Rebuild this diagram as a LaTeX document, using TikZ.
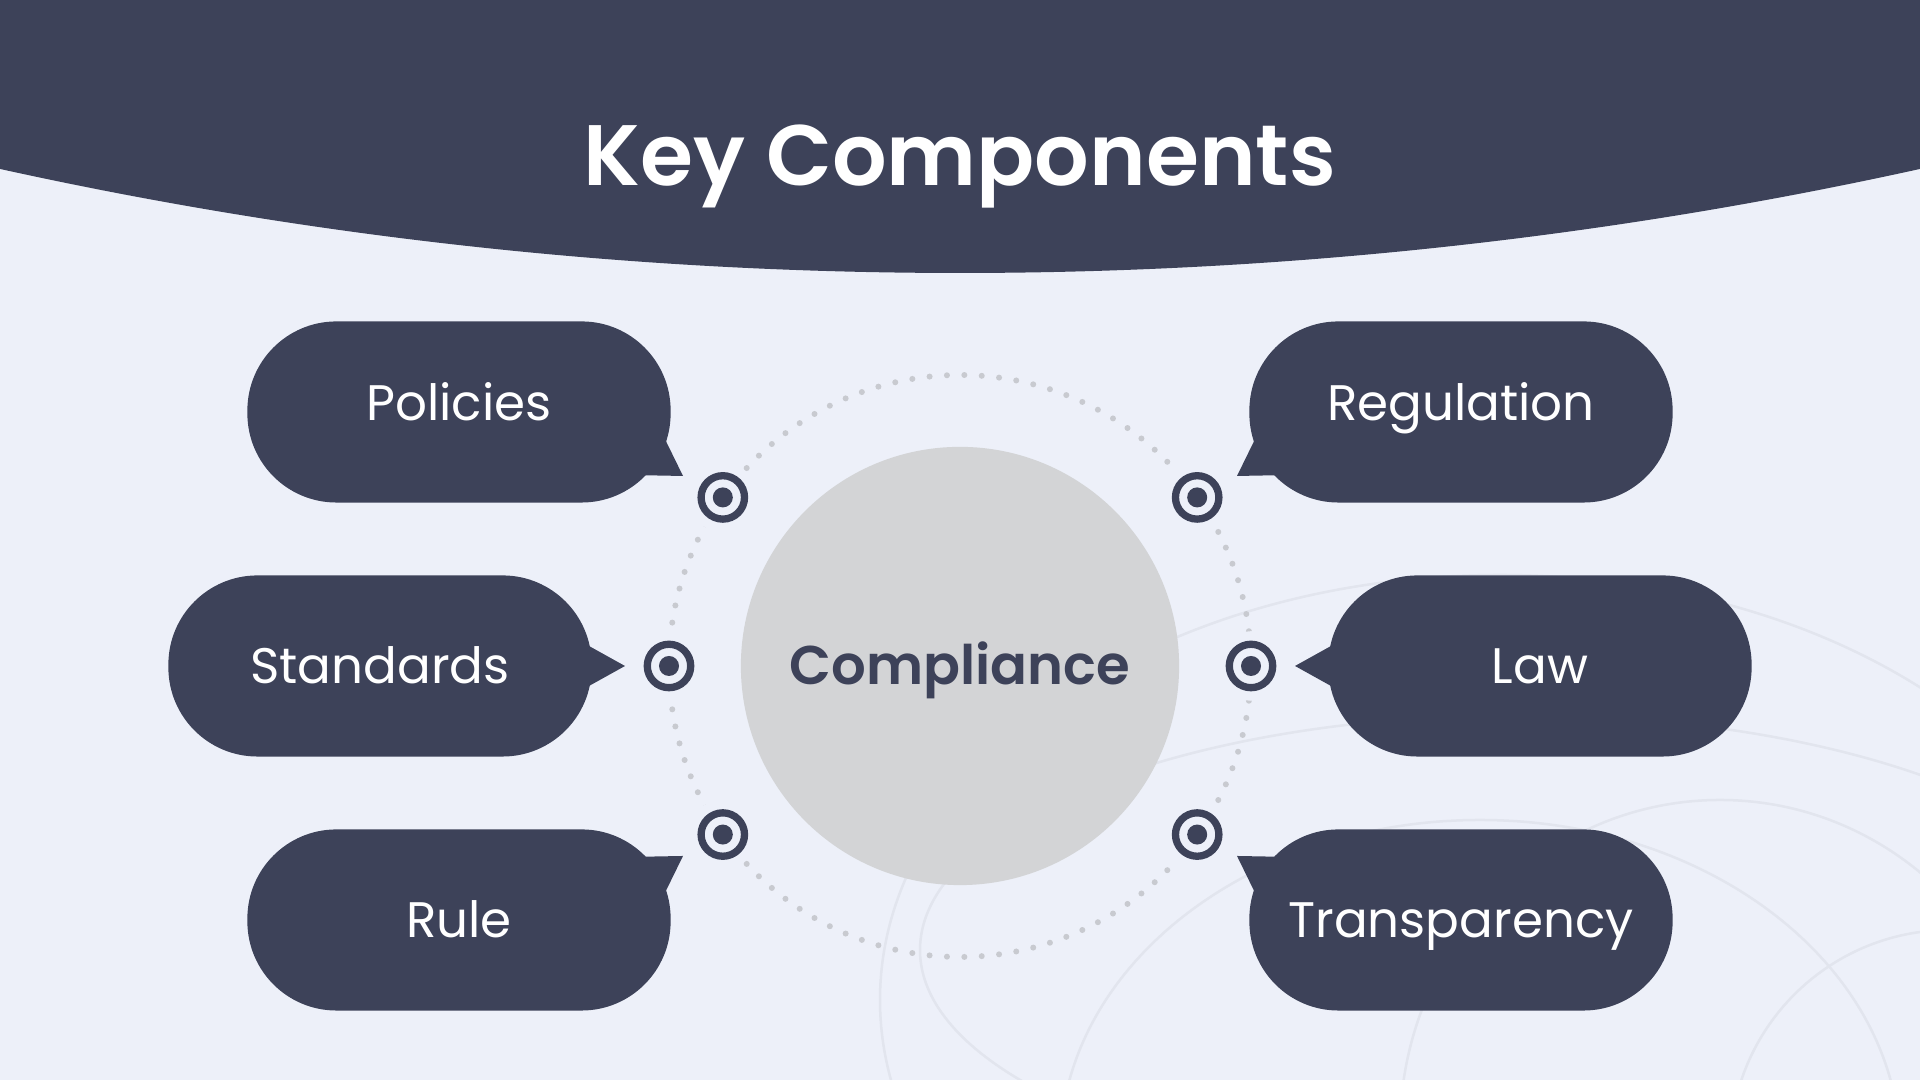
\documentclass[tikz,border=0pt]{standalone}
\usepackage{fontspec}
\setmainfont{Poppins}
\newfontfamily\headfont{Poppins SemiBold}
\usetikzlibrary{calc}

\definecolor{navy}{HTML}{3D4259}
\definecolor{paper}{HTML}{EDF0F9}
\definecolor{disc}{HTML}{D3D4D6}
\definecolor{dotgray}{HTML}{C8CAD0}
\definecolor{ripple}{HTML}{E2E5EE}

\tikzset{
  bubble/.style={fill=navy, text=white, rounded corners=0.89cm,
    minimum width=4.23cm, minimum height=1.81cm, inner sep=0pt,
    font=\fontsize{14.2}{17}\selectfont, text height=9.9pt, text depth=0pt},
  raised/.style={text depth=0.17cm},
  target/.style={circle, draw=navy, line width=0.073cm, fill=paper,
    minimum size=0.434cm, inner sep=0pt,
    preaction={draw=paper, line width=0.26cm},
    path picture={\fill[navy] (path picture bounding box.center) circle (0.1cm);}},
  ring/.style={draw=ripple, line width=0.025cm},
}

\begin{document}
\begin{tikzpicture}[x=0.01cm, y=0.01cm]
  \useasboundingbox (0,0) rectangle (1920,1080);
  \fill[paper] (0,0) rectangle (1920,1080);

  % faint rings and header band
  \begin{scope}
    \clip (0,0) rectangle (1920,1080);
    \draw[ring] (1500,80) ellipse [x radius=620, y radius=425];
    \draw[ring] (1520,130) ellipse [x radius=600, y radius=235];
    \draw[ring] (1480,-70) ellipse [x radius=420, y radius=330];
    \draw[ring] (1720,-50) ellipse [x radius=320, y radius=330];
    \draw[ring] (1950,-70) circle [radius=220];
    \fill[navy] (960,5248) circle [radius=4441];
  \end{scope}

  \node[text=white, anchor=base, font=\headfont\fontsize{24.4}{29}\selectfont] (title) at (960,894) {Key Components};

  % centre
  \coordinate (mid) at (960,414);
  \foreach \i in {0,...,104}
    \fill[dotgray] ($(mid)+({\i*3.42857}:291)$) circle (3);
  \node[circle, fill=disc, minimum size=4.38cm, inner sep=0pt, text=navy,
    font=\headfont\fontsize{15.5}{19}\selectfont, text height=10.8pt, text depth=0pt] (comp) at (mid) {Compliance};

  % bubbles
  \node[bubble, raised] (pol) at (459,668) {Policies};
  \node[bubble, raised] (reg) at (1461,668) {Regulation};
  \node[bubble] (sta) at (380,414) {Standards};
  \node[bubble] (law) at (1540,414) {Law};
  \node[bubble] (rul) at (459,160) {Rule};
  \node[bubble] (tra) at (1461,160) {Transparency};

  % tails
  \foreach \n/\sx/\sy in {pol/1/1, reg/-1/1, rul/1/-1, tra/-1/-1}
    \fill[navy] ($(\n)+({201*\sx},{-17*\sy})$) -- ($(\n)+({224*\sx},{-64*\sy})$)
      -- ($(\n)+({170*\sx},{-63*\sy})$) -- cycle;
  \foreach \n/\sx in {sta/1, law/-1}
    \fill[navy] ($(\n)+({200*\sx},25)$) -- ($(\n)+({245*\sx},0)$) -- ($(\n)+({200*\sx},-25)$) -- cycle;

  % targets
  \node[target] (tpol) at ($(mid)+(144.6:291)$) {};
  \node[target] (tsta) at ($(mid)+(180:291)$) {};
  \node[target] (trul) at ($(mid)+(215.4:291)$) {};
  \node[target] (treg) at ($(mid)+(35.4:291)$) {};
  \node[target] (tlaw) at ($(mid)+(0:291)$) {};
  \node[target] (ttra) at ($(mid)+(-35.4:291)$) {};
\end{tikzpicture}
\end{document}
